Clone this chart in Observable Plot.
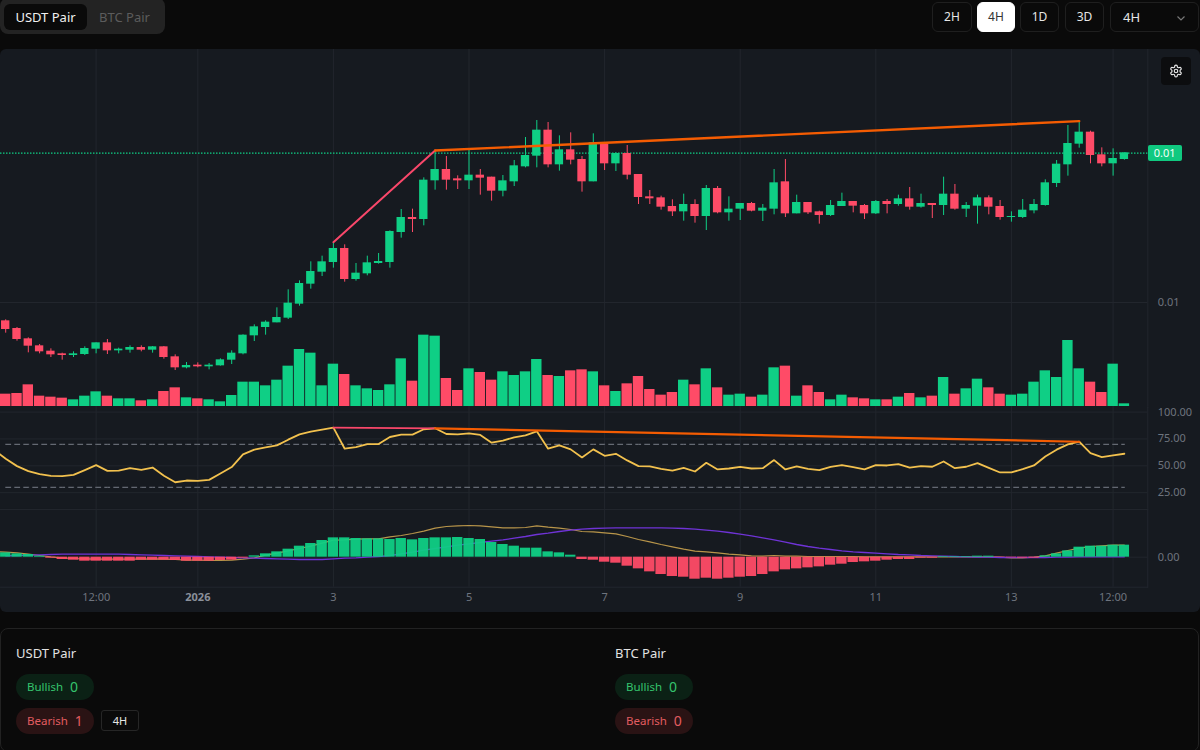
<!DOCTYPE html>
<html>
<head>
<meta charset="utf-8">
<script src="https://cdn.jsdelivr.net/npm/d3@7"></script>
<script src="https://cdn.jsdelivr.net/npm/@observablehq/plot@0.6"></script>
<style>
html,body{margin:0;padding:0;background:#0a0a0a;width:1200px;height:750px;overflow:hidden;font-family:"Noto Sans",sans-serif}
#root{position:relative;width:1200px;height:750px}
.abs{position:absolute;box-sizing:border-box;white-space:nowrap}
.tabs{left:0;top:-2px;width:165px;height:36px;background:#232323;border-radius:8px}
.tab{top:4px;height:26px;line-height:26px;font-size:13px}
.btn{top:2px;height:30px;line-height:28px;border:1px solid #1f1f1f;border-radius:6px;color:#e6e6e6;font-size:12px;text-align:center}
.btn.on{background:#fff;color:#333;border-color:#fff}
#chart{left:0;top:49px;width:1200px;height:563px;background:#161a20;border-radius:6px;overflow:hidden}
#chart svg{position:absolute;left:0;display:block;overflow:visible}
.card{left:0;top:628px;width:1199px;height:124px;border:1px solid #222;border-radius:8px;background:#0a0a0a}
.h{font-size:13px;color:#e2e2e2;line-height:20px}
.pill{height:26px;line-height:26px;width:78px;border-radius:13px;font-size:11.5px;padding-left:11px}
.pill b{font-weight:400;font-size:14px;margin-left:4px;vertical-align:-1px}
.bull{background:#0b2115;color:#35c46d}
.bear{background:#2a1314;color:#e25c60}
.chip{left:101px;top:710px;width:38px;height:21px;line-height:19px;border:1px solid #262626;border-radius:3px;color:#e6e6e6;font-size:11px;text-align:center}
#tag{left:1147.5px;width:34.5px;height:16px;line-height:16px;border-radius:2px;background:#10c980;color:#f2fff9;font-size:11px;text-align:center}
</style>
</head>
<body>
<div id="root">
  <div class="abs tabs"></div>
  <div class="abs tab" style="left:4px;width:83px;background:#0a0a0a;border-radius:6px;color:#f0f0f0;text-align:center">USDT Pair</div>
  <div class="abs tab" style="left:99px;color:#5c5c5c">BTC Pair</div>
  <div class="abs btn" style="left:932px;width:40px">2H</div>
  <div class="abs btn on" style="left:977px;width:38px">4H</div>
  <div class="abs btn" style="left:1020px;width:39px">1D</div>
  <div class="abs btn" style="left:1065px;width:39px">3D</div>
  <div class="abs btn" style="left:1110px;width:89px;font-size:13px;text-align:left;padding-left:12px">4H
    <svg class="abs" style="left:64px;top:9px" width="12" height="12" viewBox="0 0 24 24" fill="none" stroke="#777" stroke-width="2.4"><path d="M5 9l7 7 7-7"/></svg>
  </div>
  <div class="abs" id="chart"></div>
  <div class="abs" style="left:1161px;top:57px;width:30px;height:28px;background:#0c0d0f;border-radius:4px">
    <svg class="abs" style="left:8px;top:7px" width="14" height="14" viewBox="0 0 24 24" fill="none" stroke="#e8e8e8" stroke-width="2"><path d="M12.22 2h-.44a2 2 0 0 0-2 2v.18a2 2 0 0 1-1 1.73l-.43.25a2 2 0 0 1-2 0l-.15-.08a2 2 0 0 0-2.73.73l-.22.38a2 2 0 0 0 .73 2.73l.15.1a2 2 0 0 1 1 1.72v.51a2 2 0 0 1-1 1.74l-.15.09a2 2 0 0 0-.73 2.73l.22.38a2 2 0 0 0 2.73.73l.15-.08a2 2 0 0 1 2 0l.43.25a2 2 0 0 1 1 1.73V20a2 2 0 0 0 2 2h.44a2 2 0 0 0 2-2v-.18a2 2 0 0 1 1-1.73l.43-.25a2 2 0 0 1 2 0l.15.08a2 2 0 0 0 2.73-.73l.22-.39a2 2 0 0 0-.73-2.73l-.15-.08a2 2 0 0 1-1-1.74v-.5a2 2 0 0 1 1-1.74l.15-.09a2 2 0 0 0 .73-2.73l-.22-.38a2 2 0 0 0-2.73-.73l-.15.08a2 2 0 0 1-2 0l-.43-.25a2 2 0 0 1-1-1.73V4a2 2 0 0 0-2-2z"/><circle cx="12" cy="12" r="3"/></svg>
  </div>
  <div class="abs card"></div>
  <div class="abs h" style="left:16px;top:643px">USDT Pair</div>
  <div class="abs pill bull" style="left:16px;top:674px">Bullish <b>0</b></div>
  <div class="abs pill bear" style="left:16px;top:708px">Bearish <b>1</b></div>
  <div class="abs chip">4H</div>
  <div class="abs h" style="left:615px;top:643px">BTC Pair</div>
  <div class="abs pill bull" style="left:615px;top:674px">Bullish <b>0</b></div>
  <div class="abs pill bear" style="left:615px;top:708px">Bearish <b>0</b></div>
</div>
<script>
// ---- data; prices and MACD in units of 1e-5 ----
const highs = [948,925,894,874,861,848,852,867,879,889,863,870,870,868,868,843,820,819,817,831,855,903,933,945,984,1038,1065,1122,1139,1181,1173,1117,1139,1147,1215,1279,1280,1374,1456,1438,1380,1458,1399,1376,1381,1426,1495,1546,1540,1500,1509,1438,1506,1478,1449,1471,1384,1336,1319,1308,1325,1308,1351,1348,1317,1297,1300,1294,1399,1429,1322,1300,1274,1306,1328,1303,1294,1306,1309,1322,1345,1325,1297,1376,1354,1300,1322,1320,1306,1272,1309,1309,1368,1426,1531,1543,1514,1464,1461,1449];
const opens = [945,922,891,870,854,846,841,844,860,879,855,857,865,857,867,837,804,812,807,810,827,846,900,925,939,953,995,1055,1091,1120,1162,1069,1086,1117,1120,1210,1255,1249,1365,1399,1371,1365,1382,1376,1334,1362,1407,1439,1517,1413,1458,1429,1362,1475,1416,1447,1384,1317,1314,1288,1272,1294,1258,1342,1269,1280,1297,1274,1280,1362,1266,1300,1272,1261,1288,1303,1291,1266,1303,1294,1311,1286,1297,1291,1325,1280,1289,1314,1288,1255,1255,1275,1291,1357,1413,1475,1511,1443,1416,1429];
const closes = [919,889,869,852,843,841,846,862,879,855,860,865,857,867,835,804,811,807,812,828,848,902,927,941,955,998,1057,1093,1122,1162,1069,1088,1119,1123,1213,1255,1249,1367,1399,1367,1365,1382,1373,1334,1365,1410,1441,1517,1413,1458,1427,1362,1479,1416,1447,1382,1315,1311,1286,1272,1294,1258,1342,1269,1280,1297,1274,1283,1359,1266,1300,1269,1261,1291,1303,1289,1266,1303,1294,1311,1286,1297,1291,1325,1280,1291,1314,1286,1255,1258,1277,1294,1359,1415,1477,1511,1441,1416,1432,1449];
const lows = [908,884,849,846,835,827,835,841,846,844,846,848,852,848,830,796,801,804,798,809,814,843,883,902,939,949,989,1040,1078,1103,1061,1064,1080,1115,1103,1193,1210,1230,1337,1337,1339,1339,1322,1304,1317,1348,1404,1404,1404,1394,1413,1331,1362,1396,1393,1368,1294,1294,1277,1258,1244,1238,1216,1266,1244,1246,1272,1243,1263,1255,1266,1264,1235,1258,1288,1269,1249,1264,1266,1289,1277,1283,1252,1261,1277,1255,1235,1263,1247,1241,1252,1266,1289,1345,1379,1463,1416,1407,1379,1427];
const volumes = [37,39,65,31,28,25,20,31,44,31,23,23,17,20,45,56,26,23,20,14,33,73,73,62,79,121,171,160,62,127,96,62,53,48,65,143,76,214,211,84,48,113,102,79,104,93,104,141,93,90,107,110,104,62,45,68,90,51,34,42,79,65,113,56,34,37,28,34,116,121,31,62,42,20,34,26,23,20,20,28,39,26,31,87,37,53,82,56,37,34,37,73,107,87,198,113,73,42,127,8];
const rsi = [64.6,56.5,49.7,45.0,42.2,40.7,40.3,41.6,46.0,50.6,45.3,45.6,47.8,46.3,48.4,40.7,34.7,36.3,36.0,36.9,42.8,48.8,60.6,65.0,67.1,69.0,74.3,79.3,81.8,83.6,85.5,65.9,67.4,70.2,70.2,76.8,79.0,79.0,84.0,84.9,79.6,79.3,80.2,78.7,71.5,73.4,76.5,78.3,82.1,65.9,69.0,65.3,57.8,65.3,59.3,61.2,55.0,49.7,49.4,47.2,45.6,48.1,44.7,52.8,46.6,47.5,49.1,47.5,47.8,55.3,46.6,49.4,47.2,46.0,49.1,50.6,48.8,46.6,50.6,50.3,51.6,48.4,49.7,49.1,54.0,47.8,49.1,52.5,48.1,43.8,43.8,46.9,50.3,58.7,65.0,69.9,72.4,61.8,58.1,59.7,61.2];
const macdLine = [17,15,13,9,5,1,-2,-4,-5,-6,-6,-6,-6,-6,-5,-6,-7,-9,-9,-10,-10,-9,-6,-2,6,12,19,26,33,42,51,52,54,55,55,61,65,71,78,87,92,94,95,94,91,88,88,89,94,90,87,83,77,76,73,70,62,53,46,38,31,24,18,16,13,9,7,4,3,5,3,3,2,2,2,2,2,1,1,1,1,1,1,1,1,1,1,1,1,0,-2,-2,0,4,12,20,27,32,34,36,36];
const macdSignal = [3,4,5,6,7,8,9,9,9,9,9,9,8,7,6,5,4,3,2,1,0,-1,-2,-3,-4,-5,-6,-7,-7,-7,-5,-3,-2,0,2,5,10,15,21,26,31,36,40,44,48,52,57,62,68,72,77,81,84,86,87,88,88,88,88,88,87,86,84,81,78,74,69,64,58,52,45,38,32,27,23,19,16,14,12,10,8,7,5,4,3,2,1,0,0,-1,-1,-1,-1,-1,0,0,1,1,1,1,1];
const macdHist = [13,10,8,3,-3,-7,-9,-12,-12,-12,-12,-12,-9,-9,-9,-10,-12,-12,-12,-10,-9,-3,4,10,16,24,33,41,50,58,58,56,55,55,53,56,52,56,58,58,59,56,53,44,38,33,27,27,16,13,6,-7,-9,-15,-18,-27,-35,-44,-52,-58,-60,-66,-63,-66,-63,-60,-58,-52,-44,-38,-35,-32,-29,-24,-21,-16,-14,-12,-9,-7,-7,-3,-3,2,2,2,3,3,-1,-2,-3,-3,4,10,19,30,33,33,36,36];
const tickBars = [8,29,41,53,65,77,89,98];
const tickLabels = ["12:00","3","5","7","9","11","13","12:00"];
const yearBar = 17, yearLabel = "2026";
const priceTicks = [1000];
const rsiTicks = [25,50,75,100];
const rsiBands = [70,30];
const macdTicks = [0];
const currentPrice = 1448;
// divergence lines: bar index, price (1e-5 units), RSI
const divBars = [29,38,95];
const divPrices = [1181,1456,1544];
const divRsi = [85.5,84.9,72.4];

// ---- colours ----
const GREEN="#0fcf85", RED="#ff4b67", GRID="#22262d", AXIS="#6e747e", RSIC="#f2c14e", GOLD="#b8954a", PURPLE="#6f33d6", DASH="#7a808a", PINK="#f9476a", ORANGE="#f45c02";

const bars = d3.range(100);
const candles = bars.map(i=>({i,high:highs[i],open:opens[i],close:closes[i],low:lows[i],vol:volumes[i],hist:macdHist[i],dir:closes[i]>=opens[i]?"up":"down"}));
const lineBars = d3.range(-1,100);
const rsiData = lineBars.map((i,j)=>({i,v:rsi[j]}));
const macdData = lineBars.map((i,j)=>({i,m:macdLine[j],s:macdSignal[j]}));
const divData = divBars.map((i,j)=>({i,p:divPrices[j],r:divRsi[j]}));
const tickText = new Map(tickBars.map((b,j)=>[b,tickLabels[j]]));
const allTicks = [...tickBars,yearBar];
const xDomain = [-0.4602,101.07];
const color = {domain:["up","down"],range:[GREEN,RED]};

const chart = document.getElementById("chart");
function pane(top,height,marginBottom,yDomain,marks){
  const svg = Plot.plot({
    width:1200,height,marginLeft:0,marginRight:52.7,marginTop:0,marginBottom,
    x:{domain:xDomain,axis:null,label:null},y:{domain:yDomain,axis:null,label:null},color,
    style:{background:"transparent",fontFamily:"Noto Sans",fontSize:"11px",color:AXIS,overflow:"visible"},
    marks
  });
  svg.style.top=top+"px";
  chart.appendChild(svg);
  return svg;
}
const grids = ()=>[Plot.gridX({ticks:allTicks,stroke:GRID,strokeOpacity:1})];
const right = ()=>Plot.frame({anchor:"right",stroke:GRID,strokeOpacity:1});

// price pane (y 49..407 on the page, chart origin 49)
const pricePlot = pane(0,358,0,[685,1759],[
  ...grids(),
  Plot.gridY({ticks:priceTicks,stroke:GRID,strokeOpacity:1}),
  right(),
  Plot.axisY({ticks:priceTicks,anchor:"right",label:null,tickSize:0,tickPadding:10,tickFormat:d=>(d*1e-5).toFixed(2),fill:AXIS,fontSize:11}),
  Plot.ruleY([currentPrice],{stroke:GREEN,strokeDasharray:"1.5,1.5",strokeWidth:1.3})
]);
// volume overlay
pane(0,358,0,[-3,1071],[
  Plot.rect(candles,{x1:d=>d.i-0.46,x2:d=>d.i+0.46,y1:()=>0,y2:"vol",fill:"dir"})
]);
// candles overlay
pane(0,358,0,[685,1759],[
  Plot.ruleX(candles,{x:"i",y1:"low",y2:"high",stroke:"dir",strokeWidth:1}),
  Plot.rect(candles,{x1:d=>d.i-0.37,x2:d=>d.i+0.37,y1:"open",y2:"close",fill:"dir"}),
  Plot.line(divData.slice(0,2),{x:"i",y:"p",stroke:PINK,strokeWidth:2}),
  Plot.line(divData.slice(1),{x:"i",y:"p",stroke:ORANGE,strokeWidth:2.4})
]);
// RSI pane
pane(358,102.3,0,[9.06,104.25],[
  ...grids(),
  Plot.gridY({ticks:rsiTicks,stroke:GRID,strokeOpacity:1}),
  right(),
  Plot.axisY({ticks:rsiTicks,anchor:"right",label:null,tickSize:0,tickPadding:10,tickFormat:d=>d.toFixed(2),fill:AXIS,fontSize:11}),
  ...rsiBands.map(b=>Plot.line(bars.map(i=>({i,b})),{x:"i",y:"b",stroke:DASH,strokeWidth:1,strokeDasharray:"5,4"})),
  Plot.line(rsiData,{x:"i",y:"v",stroke:RSIC,strokeWidth:1.8}),
  Plot.line(divData.slice(0,2),{x:"i",y:"r",stroke:PINK,strokeWidth:1.8}),
  Plot.line(divData.slice(1),{x:"i",y:"r",stroke:ORANGE,strokeWidth:2.2})
]);
// MACD pane and time axis
pane(460.3,102.7,25,[-90,143],[
  ...grids(),
  Plot.gridY({ticks:macdTicks,stroke:GRID,strokeOpacity:1}),
  right(),
  Plot.frame({anchor:"top",stroke:GRID,strokeOpacity:1}),
  Plot.frame({anchor:"bottom",stroke:GRID,strokeOpacity:1}),
  Plot.axisY({ticks:macdTicks,anchor:"right",label:null,tickSize:0,tickPadding:10,tickFormat:d=>(d*1e-5).toFixed(2),fill:AXIS,fontSize:11}),
  Plot.line(macdData,{x:"i",y:"m",stroke:GOLD,strokeWidth:1.2}),
  Plot.line(macdData.slice(1),{x:"i",y:"s",stroke:PURPLE,strokeWidth:1.3}),
  Plot.rect(candles,{x1:d=>d.i-0.46,x2:d=>d.i+0.46,y1:()=>0,y2:"hist",fill:d=>d.hist>=0?"up":"down",fillOpacity:0.95}),
  Plot.axisX({ticks:tickBars,anchor:"bottom",label:null,tickSize:0,tickPadding:6,tickFormat:d=>tickText.get(d),fill:AXIS,fontSize:11}),
  Plot.axisX({ticks:[yearBar],anchor:"bottom",label:null,tickSize:0,tickPadding:6,tickFormat:()=>yearLabel,fill:"#8a909a",fontSize:11,fontWeight:"bold"})
]);

// current price tag, placed from the price scale
const tag=document.createElement("div");
tag.id="tag";tag.className="abs";
tag.textContent=(currentPrice*1e-5).toFixed(2);
tag.style.top=(49+pricePlot.scale("y").apply(currentPrice)-8)+"px";
document.getElementById("root").appendChild(tag);
</script>
</body>
</html>
